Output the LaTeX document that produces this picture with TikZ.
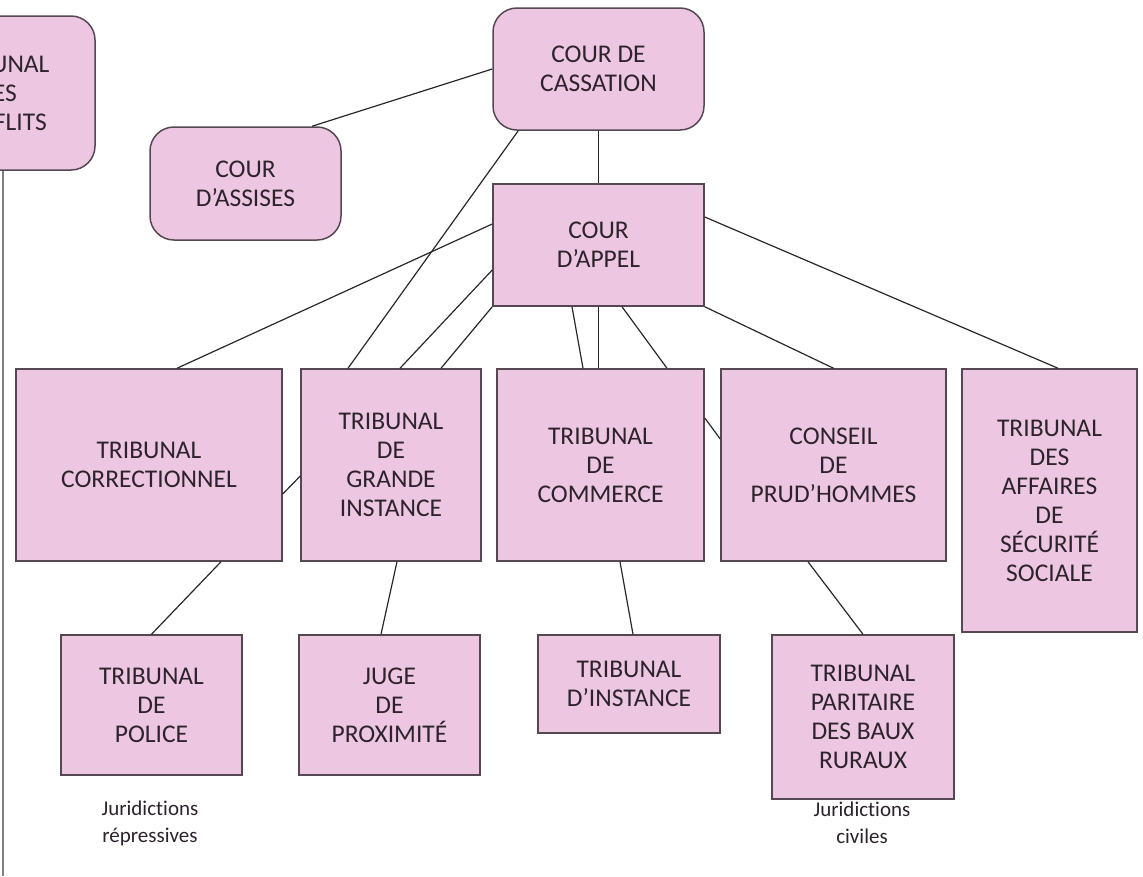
\documentclass[tikz,border=0pt]{standalone}
\usepackage{fontspec}
\setmainfont{Carlito}[Ligatures={TeX,NoCommon}]
\usetikzlibrary{positioning, calc}

\definecolor{boxpink}{RGB}{237,199,225}
\definecolor{boxedge}{RGB}{85,72,82}
\definecolor{boxtext}{RGB}{45,35,45}
\definecolor{linkgrey}{RGB}{40,40,40}

\begin{document}
\begin{tikzpicture}[
    x=1pt, y=-1pt,
    box/.style={rectangle, draw=boxedge, fill=boxpink, line width=1.5pt, align=center,
        text=boxtext, inner sep=0pt, font=\fontsize{25.5}{29}\selectfont},
    rbox/.style={box, rounded corners=24pt},
    link/.style={draw=linkgrey, line width=1.2pt},
    note/.style={align=center, text=boxtext, font=\fontsize{21}{27}\selectfont},
]
\useasboundingbox (0,0) rectangle (1143,876);
\clip (0,0) rectangle (1143,876);

%% NODES
    % top
    \node[rbox, minimum width=196pt, minimum height=154pt] (conflits) at (-3,93) {TRIBUNAL\\DES\\CONFLITS};
    \node[rbox, minimum width=211pt, minimum height=122pt] (cassation) at (598.5,69) {COUR DE\\CASSATION};
    \node[rbox, minimum width=191pt, minimum height=113pt] (assises) at (245.5,183.5) {COUR\\D'ASSISES};

    % appel
    \node[box, minimum width=211pt, minimum height=122pt] (appel) at (598.5,245) {COUR\\D'APPEL};

    % first instance
    \node[box, minimum width=266pt, minimum height=192pt] (correctionnel) at (149,465) {TRIBUNAL\\CORRECTIONNEL};
    \node[box, minimum width=180pt, minimum height=192pt] (tgi) at (391,465) {TRIBUNAL\\DE\\GRANDE\\INSTANCE};
    \node[box, minimum width=207pt, minimum height=192pt] (commerce) at (600.5,465) {TRIBUNAL\\DE\\COMMERCE};
    \node[box, minimum width=225pt, minimum height=192pt] (prudhommes) at (833.5,465) {CONSEIL\\DE\\PRUD'HOMMES};
    \node[box, minimum width=175pt, minimum height=263pt] (tass) at (1049.5,500.5) {TRIBUNAL\\DES\\AFFAIRES\\DE\\SÉCURITÉ\\SOCIALE};

    % lower row
    \node[box, minimum width=181pt, minimum height=140pt] (police) at (151.5,705) {TRIBUNAL\\DE\\POLICE};
    \node[box, minimum width=181pt, minimum height=140pt] (proximite) at (389.5,705) {JUGE\\DE\\PROXIMITÉ};
    \node[box, minimum width=182pt, minimum height=98pt] (instance) at (629,684) {TRIBUNAL\\D'INSTANCE};
    \node[box, minimum width=182pt, minimum height=164pt] (baux) at (863,717) {TRIBUNAL\\PARITAIRE\\DES BAUX\\RURAUX};

    % legends
    \node[note] (repressives) at (150,823) {Juridictions\\répressives};
    \node[note] (civiles) at (862,823) {Juridictions\\civiles};

    \coordinate (conflits_end) at (3,876);

%% CONNECTIONS
    % cassation
    \draw[link] (cassation.west) -- ([xshift=66.5pt]assises.north);
    \draw[link] ([xshift=26pt]cassation.south west) -- ([xshift=-43pt]tgi.north);
    \draw[link] (cassation.south) -- (appel.north);

    % appel -> first instance
    \draw[link] ([yshift=21pt]appel.west) -- ([xshift=28pt]correctionnel.north);
    \draw[link] ([yshift=-25pt]appel.west) -- ([xshift=9pt]tgi.north);
    \draw[link] (appel.south west) -- ([xshift=50pt]tgi.north);
    \draw[link] ([xshift=-26.5pt]appel.south) -- ([xshift=-17.5pt]commerce.north);
    \draw[link] (appel.south) -- (appel.south |- commerce.north);
    \draw[link] ([xshift=23.5pt]appel.south) -- ([xshift=66.5pt]commerce.north);
    \draw[link] (appel.south east) -- (prudhommes.north);
    \draw[link] ([yshift=28pt]appel.east) -- ([xshift=8.5pt]tass.north);

    % between neighbours
    \draw[link] ([yshift=-29pt]correctionnel.east) -- ([yshift=-11pt]tgi.west);
    \draw[link] ([yshift=47pt]commerce.east) -- ([yshift=26pt]prudhommes.west);

    % first instance -> lower row
    \draw[link] ([xshift=72pt]correctionnel.south) -- (police.north);
    \draw[link] ([xshift=6pt]tgi.south) -- ([xshift=-8.5pt]proximite.north);
    \draw[link] ([xshift=19.5pt]commerce.south) -- ([xshift=4pt]instance.north);
    \draw[link] ([xshift=-25.5pt]prudhommes.south) -- (baux.north);

    % conflits
    \draw[link, draw=gray, line width=1.6pt] (conflits.south -| conflits_end) -- (conflits_end);

\end{tikzpicture}
\end{document}
